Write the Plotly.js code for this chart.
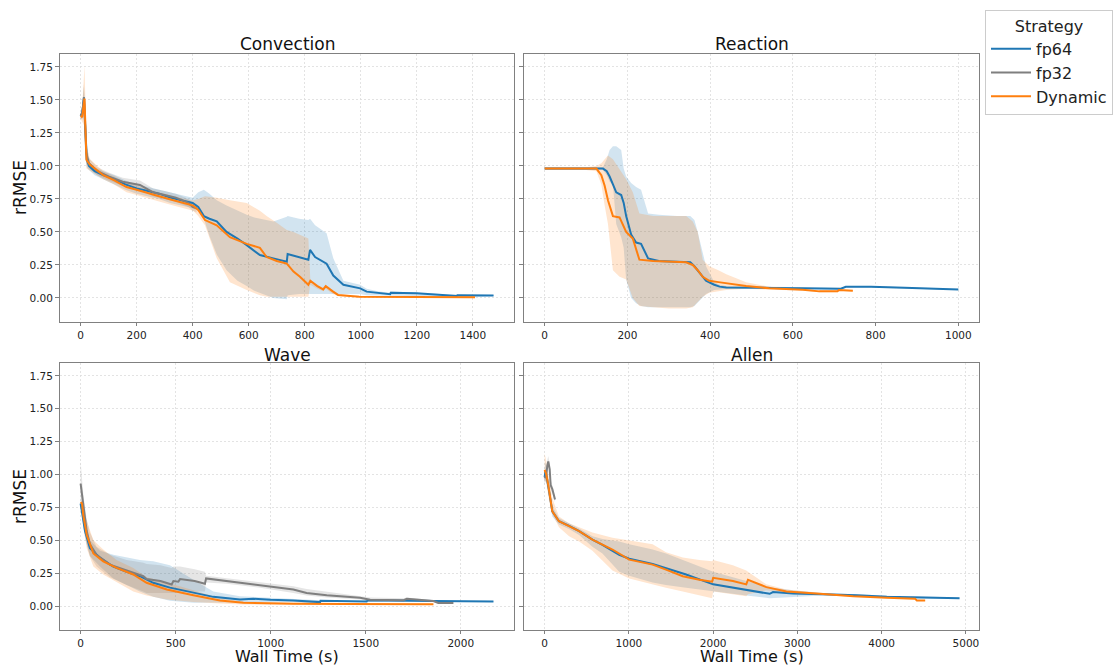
<!DOCTYPE html>
<html>
<head>
<meta charset="utf-8">
<script src="https://cdn.plot.ly/plotly-3.0.1.min.js"></script>
<style>html,body{margin:0;padding:0;background:#fff;}#chart{width:1114px;height:667px;}</style>
</head>
<body>
<div id="chart"></div>
<script>
// ---------- Data ----------
const panelTitles = ["Convection", "Reaction", "Wave", "Allen"];
const seriesNames = ["fp64", "fp32", "Dynamic"];

// Convection
const conv_fp64_t  = [0, 6, 12, 18, 22, 30, 50, 80, 120, 160, 200, 240, 280, 320, 360, 400, 420, 440, 460, 486, 521, 560, 593, 620, 640, 688, 736, 739, 780, 813, 819, 837, 878, 902, 938, 998, 1021, 1060, 1105, 1107, 1200, 1343, 1345, 1474];
const conv_fp64_y  = [1.38, 1.40, 1.52, 1.15, 1.05, 1.00, 0.96, 0.93, 0.90, 0.86, 0.83, 0.81, 0.79, 0.76, 0.74, 0.72, 0.69, 0.62, 0.60, 0.58, 0.50, 0.45, 0.40, 0.36, 0.325, 0.30, 0.275, 0.333, 0.31, 0.29, 0.364, 0.31, 0.26, 0.17, 0.10, 0.073, 0.048, 0.04, 0.028, 0.04, 0.035, 0.015, 0.02, 0.018];
const conv_fp64_hi = [1.40, 1.45, 1.60, 1.25, 1.10, 1.03, 0.99, 0.96, 0.93, 0.89, 0.86, 0.84, 0.82, 0.80, 0.78, 0.76, 0.80, 0.82, 0.79, 0.74, 0.70, 0.66, 0.63, 0.61, 0.60, 0.58, 0.615, 0.62, 0.60, 0.59, 0.60, 0.55, 0.49, 0.30, 0.13, 0.10, 0.07, 0.05, 0.04, 0.05, 0.04, 0.025, 0.025, 0.022];
const conv_fp64_lo = [1.36, 1.36, 1.42, 1.05, 0.99, 0.97, 0.93, 0.90, 0.86, 0.82, 0.79, 0.77, 0.75, 0.72, 0.70, 0.68, 0.66, 0.60, 0.47, 0.33, 0.21, 0.13, 0.09, 0.055, 0.035, 0.0, -0.01, 0.02, 0.03, 0.03, 0.03, 0.03, 0.03, 0.03, 0.03, 0.03, 0.02, 0.02, 0.015, 0.015, 0.015, 0.01, 0.012, 0.014];

const conv_fp32_t  = [0, 6, 12, 20, 30, 60, 100, 150, 212, 259, 300, 340, 385, 400, 414];
const conv_fp32_y  = [1.38, 1.40, 1.52, 1.10, 1.02, 0.96, 0.92, 0.88, 0.856, 0.80, 0.78, 0.76, 0.72, 0.69, 0.68];
const conv_fp32_hi = [1.40, 1.45, 1.62, 1.20, 1.06, 0.99, 0.95, 0.91, 0.89, 0.83, 0.81, 0.79, 0.75, 0.72, 0.71];
const conv_fp32_lo = [1.36, 1.35, 1.40, 1.02, 0.98, 0.93, 0.89, 0.85, 0.82, 0.77, 0.75, 0.73, 0.69, 0.66, 0.65];

const conv_dyn_t  = [0, 6, 14, 21, 33, 81, 120, 164, 200, 236, 280, 331, 370, 402, 420, 444, 486, 533, 593, 640, 664, 700, 736, 760, 783, 813, 820, 845, 866, 875, 900, 919, 995, 1100, 1200, 1408];
const conv_dyn_y  = [1.38, 1.37, 1.51, 1.045, 1.01, 0.93, 0.89, 0.84, 0.82, 0.80, 0.77, 0.74, 0.72, 0.70, 0.667, 0.59, 0.55, 0.46, 0.41, 0.38, 0.31, 0.28, 0.26, 0.20, 0.16, 0.10, 0.13, 0.09, 0.065, 0.09, 0.05, 0.023, 0.01, 0.008, 0.006, 0.005];
const conv_dyn_hi = [1.40, 1.45, 1.76, 1.15, 1.05, 0.96, 0.92, 0.87, 0.85, 0.83, 0.80, 0.77, 0.75, 0.74, 0.75, 0.77, 0.76, 0.74, 0.72, 0.66, 0.62, 0.57, 0.515, 0.50, 0.48, 0.45, 0.14, 0.10, 0.075, 0.10, 0.06, 0.03, 0.015, 0.012, 0.01, 0.008];
const conv_dyn_lo = [1.36, 1.33, 1.30, 0.98, 0.96, 0.90, 0.86, 0.80, 0.78, 0.76, 0.73, 0.70, 0.68, 0.66, 0.62, 0.55, 0.30, 0.12, 0.06, 0.02, 0.01, 0.01, 0.01, 0.01, 0.01, 0.01, 0.10, 0.07, 0.05, 0.07, 0.03, 0.015, 0.005, 0.004, 0.003, 0.002];

// Reaction (no fp32 run shown)
const reac_fp64_t  = [0, 50, 100, 141, 150, 157, 165, 173, 185, 191, 197, 209, 221, 233, 250, 276, 320, 352, 362, 370, 390, 410, 423, 439, 487, 550, 620, 700, 716, 728, 789, 870, 950, 1000];
const reac_fp64_y  = [0.98, 0.98, 0.98, 0.98, 0.96, 0.92, 0.86, 0.80, 0.78, 0.72, 0.62, 0.48, 0.42, 0.41, 0.30, 0.28, 0.275, 0.27, 0.24, 0.21, 0.13, 0.10, 0.086, 0.08, 0.08, 0.076, 0.074, 0.072, 0.07, 0.085, 0.085, 0.078, 0.07, 0.065];
const reac_fp64_hi = [0.99, 0.99, 0.99, 0.99, 1.05, 1.12, 1.15, 1.15, 1.12, 0.98, 0.92, 0.87, 0.84, 0.82, 0.64, 0.63, 0.62, 0.62, 0.59, 0.50, 0.24, 0.12, 0.10, 0.09, 0.09, 0.085, 0.08, 0.078, 0.076, 0.09, 0.09, 0.082, 0.075, 0.07];
const reac_fp64_lo = [0.97, 0.97, 0.97, 0.97, 0.93, 0.88, 0.86, 0.56, 0.46, 0.38, 0.14, 0.0, -0.04, -0.06, -0.07, -0.07, -0.07, -0.07, -0.06, -0.03, 0.03, 0.06, 0.065, 0.07, 0.072, 0.068, 0.068, 0.066, 0.064, 0.08, 0.08, 0.074, 0.066, 0.06];

const reac_dyn_t  = [0, 50, 100, 125, 137, 145, 153, 165, 181, 190, 197, 213, 229, 262, 300, 342, 358, 370, 382, 398, 420, 439, 487, 543, 624, 664, 708, 711, 745];
const reac_dyn_y  = [0.98, 0.98, 0.98, 0.98, 0.93, 0.85, 0.74, 0.62, 0.61, 0.55, 0.50, 0.45, 0.29, 0.28, 0.275, 0.27, 0.25, 0.21, 0.16, 0.13, 0.12, 0.11, 0.09, 0.073, 0.063, 0.05, 0.05, 0.06, 0.055];
const reac_dyn_hi = [0.99, 0.99, 0.99, 1.00, 1.02, 1.05, 1.08, 1.05, 0.97, 0.93, 0.90, 0.80, 0.64, 0.62, 0.62, 0.62, 0.58, 0.50, 0.29, 0.24, 0.21, 0.18, 0.12, 0.085, 0.07, 0.058, 0.056, 0.065, 0.06];
const reac_dyn_lo = [0.97, 0.97, 0.97, 0.96, 0.86, 0.70, 0.56, 0.21, 0.16, 0.15, 0.14, 0.0, -0.06, -0.07, -0.08, -0.08, -0.07, -0.03, 0.01, 0.04, 0.05, 0.06, 0.07, 0.062, 0.056, 0.043, 0.044, 0.053, 0.05];

// Wave
const wave_fp64_t  = [0, 23, 49, 102, 172, 242, 312, 382, 470, 593, 698, 838, 909, 1000, 1119, 1260, 1262, 1505, 1510, 1856, 2172];
const wave_fp64_y  = [0.78, 0.57, 0.44, 0.366, 0.30, 0.26, 0.227, 0.177, 0.14, 0.10, 0.07, 0.05, 0.055, 0.048, 0.043, 0.03, 0.04, 0.035, 0.045, 0.038, 0.035];
const wave_fp64_hi = [0.80, 0.62, 0.50, 0.42, 0.39, 0.37, 0.35, 0.34, 0.31, 0.20, 0.11, 0.075, 0.07, 0.06, 0.05, 0.04, 0.045, 0.04, 0.05, 0.042, 0.038];
const wave_fp64_lo = [0.76, 0.52, 0.38, 0.30, 0.21, 0.16, 0.11, 0.07, 0.04, 0.025, 0.025, 0.025, 0.03, 0.03, 0.03, 0.02, 0.03, 0.03, 0.035, 0.033, 0.032];

const wave_fp32_t  = [0, 14, 32, 49, 84, 154, 242, 330, 347, 420, 479, 488, 514, 523, 600, 654, 660, 768, 944, 1119, 1189, 1295, 1470, 1523, 1700, 1716, 1856, 1882, 1961];
const wave_fp32_y  = [0.93, 0.77, 0.57, 0.47, 0.39, 0.315, 0.27, 0.227, 0.205, 0.19, 0.164, 0.19, 0.185, 0.205, 0.19, 0.17, 0.21, 0.19, 0.16, 0.126, 0.10, 0.083, 0.063, 0.048, 0.045, 0.055, 0.038, 0.023, 0.023];
const wave_fp32_hi = [1.10, 0.85, 0.66, 0.56, 0.45, 0.39, 0.35, 0.33, 0.32, 0.31, 0.29, 0.30, 0.30, 0.30, 0.28, 0.26, 0.23, 0.21, 0.18, 0.15, 0.13, 0.11, 0.08, 0.065, 0.06, 0.065, 0.045, 0.03, 0.03];
const wave_fp32_lo = [0.80, 0.68, 0.47, 0.38, 0.30, 0.22, 0.16, 0.11, 0.10, 0.10, 0.10, 0.10, 0.10, 0.11, 0.11, 0.11, 0.18, 0.17, 0.14, 0.10, 0.08, 0.065, 0.05, 0.035, 0.033, 0.045, 0.03, 0.015, 0.015];

const wave_dyn_t  = [0, 7, 14, 32, 67, 119, 189, 277, 347, 453, 593, 733, 856, 1000, 1119, 1400, 1856];
const wave_dyn_y  = [0.79, 0.78, 0.69, 0.54, 0.40, 0.34, 0.29, 0.24, 0.177, 0.126, 0.083, 0.043, 0.025, 0.02, 0.018, 0.015, 0.013];
const wave_dyn_hi = [0.80, 0.80, 0.75, 0.65, 0.50, 0.43, 0.35, 0.29, 0.22, 0.18, 0.12, 0.06, 0.035, 0.028, 0.025, 0.02, 0.017];
const wave_dyn_lo = [0.78, 0.76, 0.62, 0.44, 0.30, 0.24, 0.18, 0.11, 0.08, 0.05, 0.03, 0.02, 0.012, 0.01, 0.01, 0.008, 0.008];

// Allen
const allen_fp64_t  = [0, 10, 20, 43, 71, 91, 170, 290, 409, 567, 686, 885, 1004, 1282, 1440, 1679, 2000, 2393, 2671, 2710, 2948, 3300, 3702, 4060, 4338, 4350, 4924];
const allen_fp64_y  = [0.98, 1.03, 1.0, 0.92, 0.80, 0.72, 0.645, 0.61, 0.57, 0.505, 0.465, 0.39, 0.36, 0.32, 0.29, 0.24, 0.165, 0.126, 0.093, 0.106, 0.095, 0.09, 0.083, 0.07, 0.065, 0.07, 0.06];
const allen_fp64_hi = [1.05, 1.10, 1.06, 0.96, 0.84, 0.76, 0.67, 0.63, 0.59, 0.53, 0.51, 0.49, 0.47, 0.43, 0.40, 0.34, 0.26, 0.19, 0.15, 0.14, 0.12, 0.10, 0.09, 0.076, 0.07, 0.075, 0.065];
const allen_fp64_lo = [0.92, 0.96, 0.94, 0.88, 0.76, 0.68, 0.62, 0.585, 0.54, 0.45, 0.40, 0.26, 0.23, 0.18, 0.16, 0.14, 0.11, 0.08, 0.06, 0.065, 0.07, 0.08, 0.076, 0.064, 0.06, 0.065, 0.055];

const allen_fp32_t  = [0, 20, 32, 43, 60, 71, 91, 123];
const allen_fp32_y  = [0.97, 1.0, 1.07, 1.10, 1.04, 0.92, 0.89, 0.81];
const allen_fp32_hi = [1.0, 1.04, 1.11, 1.14, 1.08, 0.96, 0.92, 0.83];
const allen_fp32_lo = [0.94, 0.96, 1.03, 1.06, 1.0, 0.88, 0.86, 0.79];

const allen_dyn_t  = [0, 20, 43, 71, 91, 170, 290, 409, 567, 805, 1004, 1282, 1440, 1639, 1837, 1988, 2000, 2234, 2393, 2413, 2631, 2869, 3266, 3663, 4060, 4397, 4417, 4516];
const allen_dyn_y  = [1.035, 1.0, 0.92, 0.795, 0.72, 0.645, 0.61, 0.57, 0.505, 0.43, 0.353, 0.315, 0.277, 0.227, 0.20, 0.185, 0.215, 0.19, 0.165, 0.20, 0.144, 0.11, 0.093, 0.075, 0.063, 0.055, 0.043, 0.043];
const allen_dyn_hi = [1.16, 1.10, 1.0, 0.88, 0.82, 0.68, 0.63, 0.60, 0.56, 0.52, 0.50, 0.47, 0.41, 0.37, 0.35, 0.34, 0.35, 0.31, 0.27, 0.26, 0.165, 0.126, 0.10, 0.08, 0.068, 0.06, 0.048, 0.047];
const allen_dyn_lo = [0.96, 0.93, 0.85, 0.74, 0.70, 0.60, 0.53, 0.49, 0.42, 0.27, 0.21, 0.165, 0.14, 0.11, 0.08, 0.06, 0.11, 0.09, 0.075, 0.09, 0.12, 0.10, 0.085, 0.07, 0.058, 0.05, 0.038, 0.039];

// x tick spacing per panel
const xTickStep = [200, 200, 500, 1000];

// ---------- Styling ----------
const lineColors = {fp64: "#1f77b4", fp32: "#7f7f7f", Dynamic: "#ff7f0e"};
const bandColors = {fp64: "rgba(31,119,180,0.2)", fp32: "rgba(127,127,127,0.2)", Dynamic: "rgba(255,127,14,0.2)"};
const FONT = "DejaVu Sans, Arial, sans-serif";

const panels = [
  {ax: ["x", "y"],   series: [["fp64", conv_fp64_t, conv_fp64_y, conv_fp64_lo, conv_fp64_hi], ["fp32", conv_fp32_t, conv_fp32_y, conv_fp32_lo, conv_fp32_hi], ["Dynamic", conv_dyn_t, conv_dyn_y, conv_dyn_lo, conv_dyn_hi]]},
  {ax: ["x2", "y2"], series: [["fp64", reac_fp64_t, reac_fp64_y, reac_fp64_lo, reac_fp64_hi], ["Dynamic", reac_dyn_t, reac_dyn_y, reac_dyn_lo, reac_dyn_hi]]},
  {ax: ["x3", "y3"], series: [["fp64", wave_fp64_t, wave_fp64_y, wave_fp64_lo, wave_fp64_hi], ["fp32", wave_fp32_t, wave_fp32_y, wave_fp32_lo, wave_fp32_hi], ["Dynamic", wave_dyn_t, wave_dyn_y, wave_dyn_lo, wave_dyn_hi]]},
  {ax: ["x4", "y4"], series: [["fp64", allen_fp64_t, allen_fp64_y, allen_fp64_lo, allen_fp64_hi], ["fp32", allen_fp32_t, allen_fp32_y, allen_fp32_lo, allen_fp32_hi], ["Dynamic", allen_dyn_t, allen_dyn_y, allen_dyn_lo, allen_dyn_hi]]}
];

const traces = [];
panels.forEach((p) => {
  p.series.forEach(([name, t, y, lo, hi]) => {
    traces.push({
      x: t.concat(t.slice().reverse()),
      y: hi.concat(lo.slice().reverse()),
      xaxis: p.ax[0], yaxis: p.ax[1],
      type: "scatter", mode: "lines", fill: "toself",
      fillcolor: bandColors[name], line: {width: 0, color: "rgba(0,0,0,0)"},
      showlegend: false, hoverinfo: "skip"
    });
  });
});
const shown = {};
panels.forEach((p) => {
  ["fp64", "fp32", "Dynamic"].forEach((nm) => {
    p.series.filter(s => s[0] === nm).forEach(([name, t, y]) => {
      traces.push({
        x: t, y: y, xaxis: p.ax[0], yaxis: p.ax[1],
        type: "scatter", mode: "lines", name: name, legendgroup: name,
        line: {color: lineColors[name], width: 2},
        showlegend: !shown[name]
      });
      shown[name] = true;
    });
  });
});
traces.forEach(tr => { if (tr.showlegend) tr.legendrank = seriesNames.indexOf(tr.name); });

const W = 1114, H = 667;
const colX = [[60 / W, 514 / W], [524 / W, 979 / W]];
const rowY = [[1 - 322 / H, 1 - 54 / H], [1 - 630 / H, 1 - 363 / H]];
const xRanges = [[-73.5, 1547], [-50, 1050], [-108.5, 2280], [-245, 5155]];
const yRange = [-0.182, 1.848];

const GRID = {showgrid: true, gridcolor: "#dcdcdc", griddash: "2px,2px", gridwidth: 0.8};
function xa(i, domain) {
  return Object.assign({
    domain: domain, range: xRanges[i], dtick: xTickStep[i], tick0: 0,
    showline: true, mirror: true, linecolor: "#808080", linewidth: 1,
    ticks: "outside", ticklen: 3, tickcolor: "#808080",
    zeroline: false, tickfont: {family: FONT, size: 10.5, color: "#222"},
    anchor: ["y", "y2", "y3", "y4"][i]
  }, GRID);
}
function ya(i, domain, labels) {
  return Object.assign({
    domain: domain, range: yRange, dtick: 0.25, tick0: 0, tickformat: ".2f",
    showline: true, mirror: true, linecolor: "#808080", linewidth: 1,
    ticks: "outside", ticklen: 4, tickcolor: "#808080",
    zeroline: false, showticklabels: labels,
    tickfont: {family: FONT, size: 10.5, color: "#222"},
    anchor: ["x", "x2", "x3", "x4"][i]
  }, GRID);
}

const titleFont = {family: FONT, size: 17, color: "#111"};
const xTitleFont = {family: FONT, size: 16, color: "#111"};
const annotations = [
  {text: panelTitles[0], x: (60 + 514) / 2 / W, y: 1 - 44 / H},
  {text: panelTitles[1], x: (524 + 979) / 2 / W, y: 1 - 44 / H},
  {text: panelTitles[2], x: (60 + 514) / 2 / W, y: 1 - 355 / H},
  {text: panelTitles[3], x: (524 + 979) / 2 / W, y: 1 - 355 / H},
  {text: "rRMSE", x: 20 / W, y: 1 - 188 / H, textangle: -90},
  {text: "rRMSE", x: 20 / W, y: 1 - 497 / H, textangle: -90},
  {text: "Wall Time (s)", x: (60 + 514) / 2 / W, y: 0, yanchor: "bottom", font: xTitleFont, borderpad: 0},
  {text: "Wall Time (s)", x: (524 + 979) / 2 / W, y: 0, yanchor: "bottom", font: xTitleFont, borderpad: 0}
].map(a => Object.assign({xref: "paper", yref: "paper", showarrow: false, xanchor: "center", yanchor: "middle", font: titleFont}, a));

const layout = {
  width: W, height: H,
  margin: {l: 0, r: 0, t: 0, b: 0},
  paper_bgcolor: "#fff", plot_bgcolor: "#fff",
  font: {family: FONT, color: "#222"},
  xaxis: xa(0, colX[0]), yaxis: ya(0, rowY[0], true),
  xaxis2: xa(1, colX[1]), yaxis2: ya(1, rowY[0], false),
  xaxis3: xa(2, colX[0]), yaxis3: ya(2, rowY[1], true),
  xaxis4: xa(3, colX[1]), yaxis4: ya(3, rowY[1], false),
  showlegend: true,
  legend: {
    x: 985 / W, y: 1 - 10 / H, xanchor: "left", yanchor: "top",
    bgcolor: "rgba(255,255,255,0.9)", bordercolor: "#cccccc", borderwidth: 1,
    font: {family: FONT, size: 16, color: "#222"},
    title: {text: "Strategy", side: "top center", font: {family: FONT, size: 16, color: "#222"}},
    itemwidth: 40, tracegroupgap: 0, traceorder: "normal"
  },
  annotations: annotations
};

Plotly.newPlot("chart", traces, layout, {displayModeBar: false, staticPlot: true});
</script>
</body>
</html>
